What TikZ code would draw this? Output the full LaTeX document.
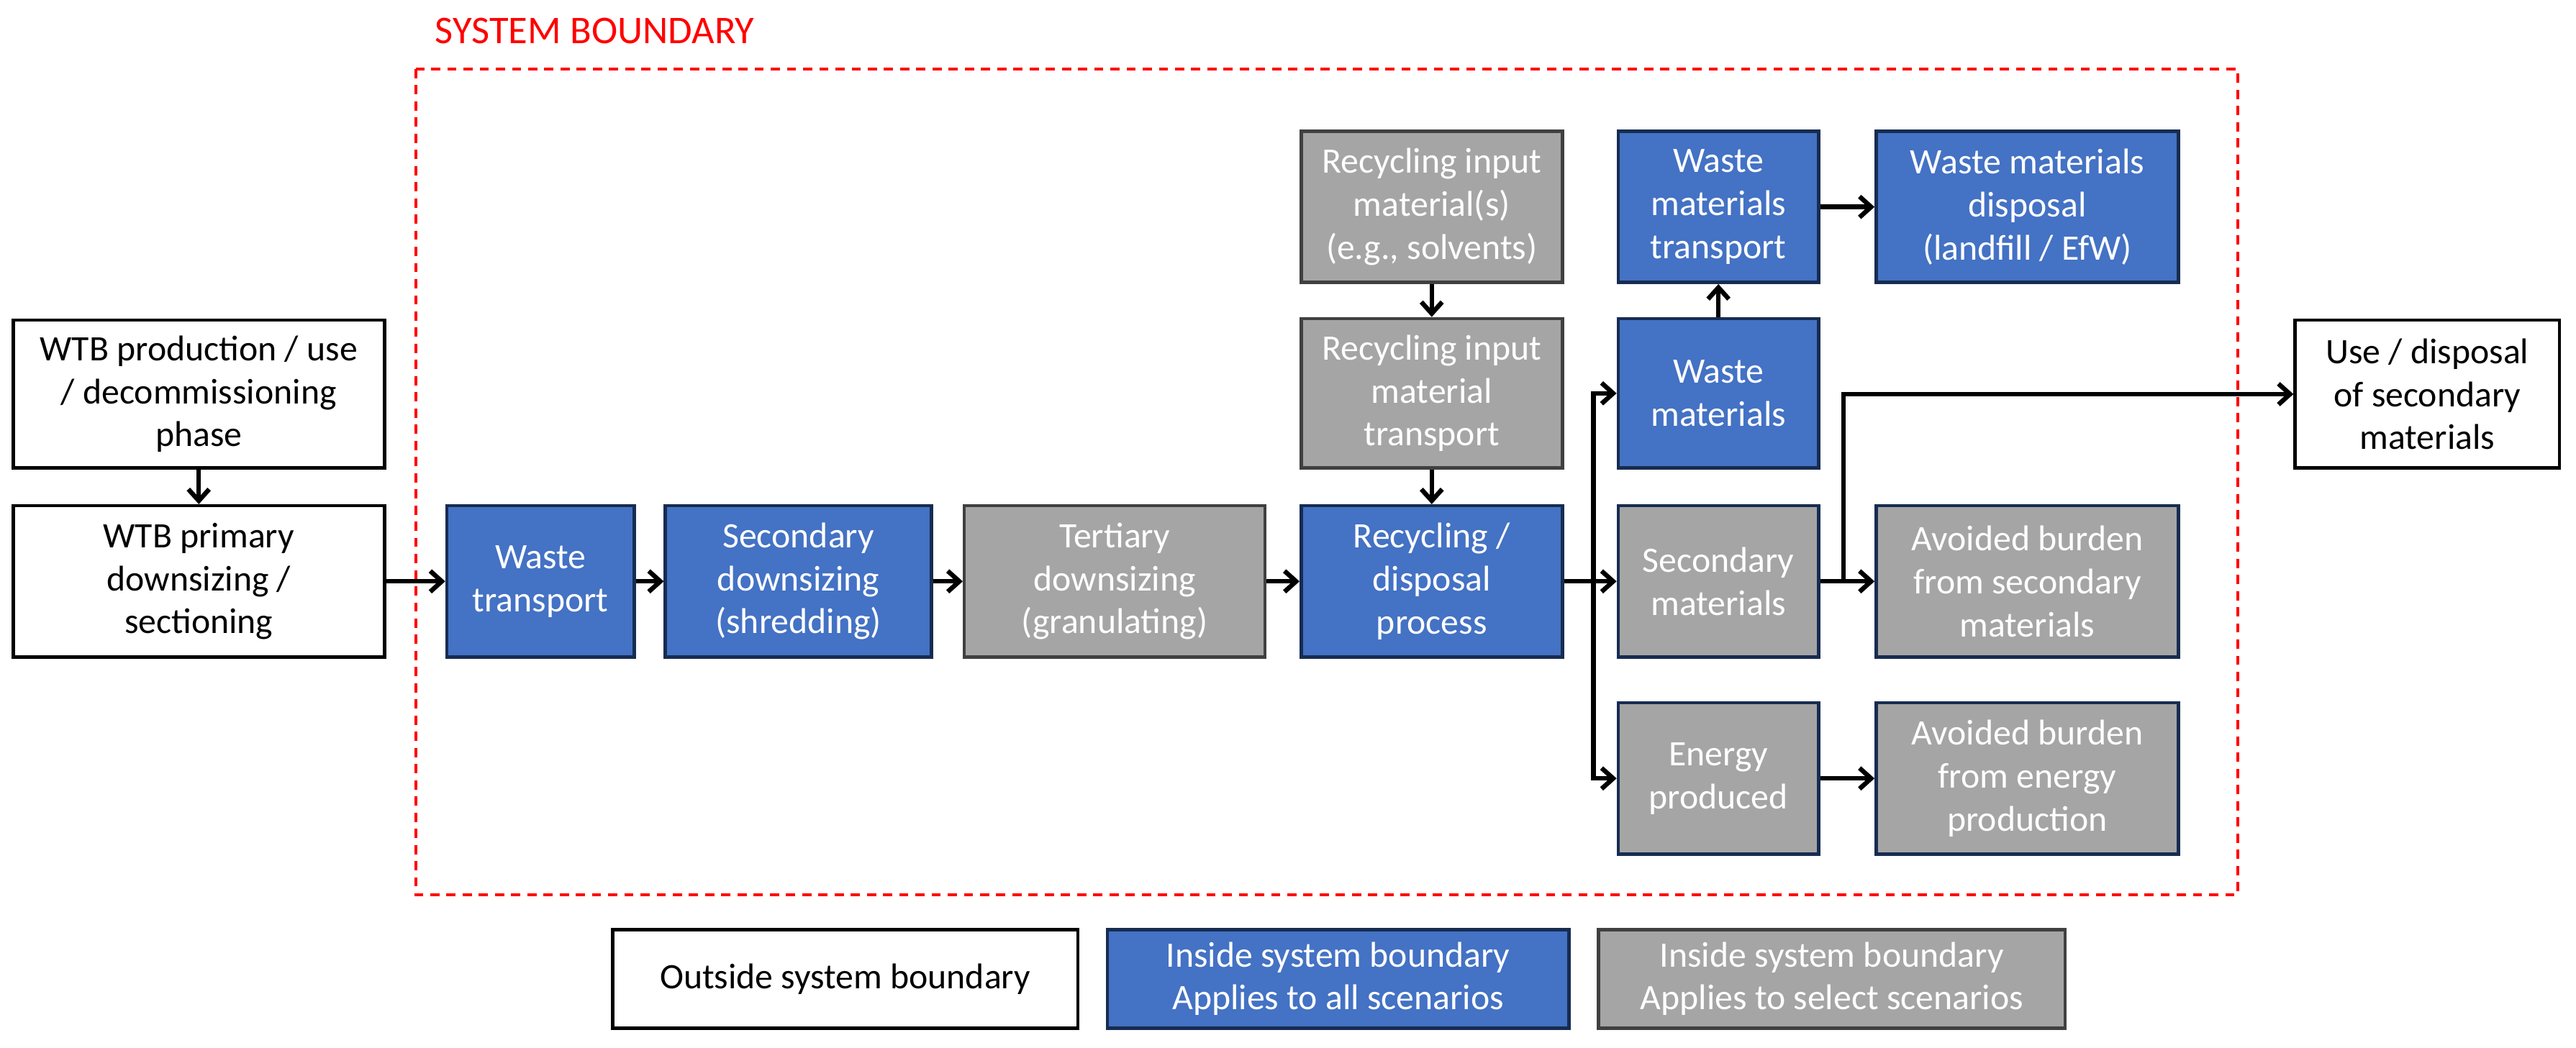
\documentclass[tikz,border=0pt]{standalone}
\usepackage{fontspec}
\setmainfont{Carlito}
\usetikzlibrary{arrows.meta}
\definecolor{bfill}{HTML}{4472C4}
\definecolor{navy}{HTML}{172C51}
\definecolor{gfill}{HTML}{A5A5A5}
\definecolor{gline}{HTML}{404040}
\begin{document}
\begin{tikzpicture}[x=0.025cm,y=-0.025cm,
 box/.style={draw,line width=1.4pt,align=center,inner sep=0pt,font=\fontsize{15.5}{18.6}\selectfont},
 wbox/.style={box,fill=white,draw=black,text=black},
 bbox/.style={box,fill=bfill,draw=navy,text=white},
 gbox/.style={box,fill=gfill,draw=navy,text=white},
 g2box/.style={box,fill=gfill,draw=gline,text=white},
 arr/.style={line width=2pt,-{Straight Barb[length=5pt,width=9pt,line width=2pt]}},
 ln/.style={line width=2pt}]
\useasboundingbox (0,0) rectangle (1568,638);
\newcommand{\bx}[7]{\node[#6,minimum width={(#4-#2)*0.025cm},minimum height={(#5-#3)*0.025cm}] (#1) at ({(#2+#4)/2},{(#3+#5)/2}) {#7};}
\draw[red,dashed,line width=1.2pt,dash pattern=on 4pt off 3pt] (253,42) rectangle (1362,545);
\node[red,anchor=west,font=\fontsize{17}{20}\selectfont] (sb) at (260,19) {SYSTEM BOUNDARY};
\bx{prod}{8}{195}{234}{285}{wbox}{WTB production / use\\/ decommissioning\\phase}
\bx{prim}{8}{308}{234}{400}{wbox}{WTB primary\\downsizing /\\sectioning}
\bx{wt}{272}{308}{386}{400}{bbox}{Waste\\transport}
\bx{sec}{405}{308}{567}{400}{bbox}{Secondary\\downsizing\\(shredding)}
\bx{ter}{587}{308}{770}{400}{g2box}{Tertiary\\downsizing\\(granulating)}
\bx{rec}{792}{308}{951}{400}{bbox}{Recycling /\\disposal\\process}
\bx{rim}{792}{80}{951}{172}{g2box}{Recycling input\\material(s)\\(e.g., solvents)}
\bx{rit}{792}{194}{951}{285}{g2box}{Recycling input\\material\\transport}
\bx{wmt}{985}{80}{1107}{172}{bbox}{Waste\\materials\\transport}
\bx{wmd}{1142}{80}{1326}{172}{bbox}{Waste materials\\disposal\\(landfill / EfW)}
\bx{wm}{985}{194}{1107}{285}{bbox}{Waste\\materials}
\bx{sm}{985}{308}{1107}{400}{gbox}{Secondary\\materials}
\bx{abs}{1142}{308}{1326}{400}{gbox}{Avoided burden\\from secondary\\materials}
\bx{ep}{985}{428}{1107}{520}{gbox}{Energy\\produced}
\bx{abe}{1142}{428}{1326}{520}{gbox}{Avoided burden\\from energy\\production}
\bx{use}{1397}{195}{1558}{285}{wbox}{Use / disposal\\of secondary\\materials}
\bx{l1}{373}{566}{656}{626}{wbox}{Outside system boundary}
\bx{l2}{674}{566}{955}{626}{bbox}{Inside system boundary\\Applies to all scenarios}
\bx{l3}{973}{566}{1257}{626}{g2box}{Inside system boundary\\Applies to select scenarios}
\coordinate (br) at (970,354);
\coordinate (br2) at (1122,354);
\draw[arr] (prod) -- (prim);
\draw[arr] (prim) -- (wt);
\draw[arr] (wt) -- (sec);
\draw[arr] (sec) -- (ter);
\draw[arr] (ter) -- (rec);
\draw[arr] (rim) -- (rit);
\draw[arr] (rit) -- (rec);
\draw[ln] (rec.east) -- (br);
\draw[arr] (br) |- (wm.west);
\draw[arr] (br) -- (sm.west);
\draw[arr] (br) |- (ep.west);
\draw[arr] (wm) -- (wmt);
\draw[arr] (wmt) -- (wmd);
\draw[arr] (sm) -- (abs);
\draw[arr] (ep) -- (abe);
\draw[arr] (br2) |- (use.west);
\end{tikzpicture}
\end{document}
